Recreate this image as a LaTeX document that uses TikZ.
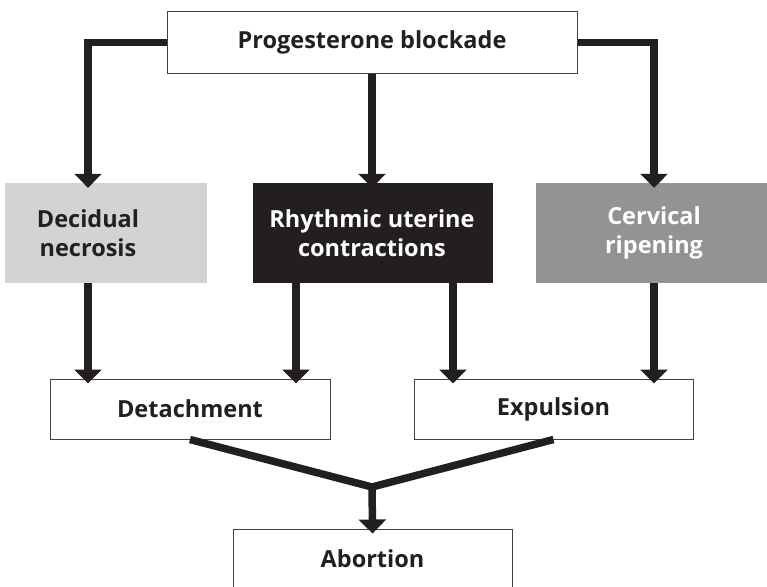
\documentclass[tikz,border=0pt]{standalone}
\usepackage{fontspec}
\setmainfont{Open Sans}
\usetikzlibrary{arrows.meta,calc}
\definecolor{ink}{HTML}{231F20}
\definecolor{lightg}{HTML}{D3D3D3}
\definecolor{midg}{HTML}{939393}
\begin{document}
\begin{tikzpicture}[x=1pt,y=-1pt,
  wbox/.style={draw=ink!85, line width=1pt, fill=white, inner sep=0pt},
  fbox/.style={inner sep=0pt, draw=none},
  lbl/.style={font=\fontsize{23.5}{29}\selectfont\bfseries, align=center, text=ink, inner sep=0pt},
  conn/.style={draw=ink, line width=7.5pt},
  arr/.style={conn, -{Triangle[width=27pt,length=14pt]}, shorten >=-5pt}
]
\useasboundingbox (0,0) rectangle (767,586);
% boxes
\node[wbox, minimum width=410pt, minimum height=61pt] (top) at (372,42.5) {};
\node[lbl] (toptext) at (372,42.5) {Progesterone blockade};
\node[fbox, fill=lightg, minimum width=202pt, minimum height=100pt] (dec) at (106,233) {};
\node[lbl] (dectext) at (88,233) {Decidual\\necrosis};
\node[fbox, fill=ink, minimum width=240pt, minimum height=100pt] (blk) at (373,233) {};
\node[lbl, text=white] (blktext) at (372,233) {Rhythmic uterine\\contractions};
\node[fbox, fill=midg, minimum width=232pt, minimum height=100pt] (cerv) at (652,233) {};
\node[lbl, text=white] (cervtext) at (654,233) {Cervical\\ripening};
\node[wbox, minimum width=280pt, minimum height=60pt] (det) at (190,409) {};
\node[lbl] (dettext) at (190,409) {Detachment};
\node[wbox, minimum width=279pt, minimum height=60pt] (exp) at (553.5,409) {};
\node[lbl] (exptext) at (553.5,409) {Expulsion};
\node[wbox, minimum width=279pt, minimum height=59pt] (abo) at (372.5,558.5) {};
\node[lbl] (abotext) at (372.5,558.5) {Abortion};
\coordinate (join) at (372,487);
% connectors from top
\draw[arr] (top.west) -| (dectext |- dec.north);
\draw[arr] (top.east) -| (cervtext |- cerv.north);
\draw[arr] (top.south) -- (top.south |- blk.north);
% to detachment / expulsion
\draw[arr] (dectext |- dec.south) -- (dectext |- det.north);
\draw[arr] ($(blk.south)+(-77,0)$) -- ($(blk.south |- det.north)+(-77,0)$);
\draw[arr] ($(blk.south)+(80,0)$) -- ($(blk.south |- exp.north)+(80,0)$);
\draw[arr] (cervtext |- cerv.south) -- (cervtext |- exp.north);
% merge
\draw[conn, miter limit=10] (det.south) -- (join) -- (exp.south);
\draw[arr, shorten <=-3pt] (join) -- (abo.north);
\end{tikzpicture}
\end{document}
